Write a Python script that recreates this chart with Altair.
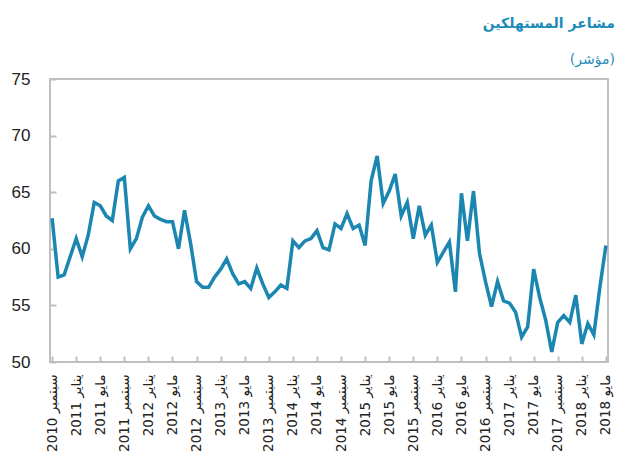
import altair as alt
import pandas as pd

month_names = ["يناير", "فبراير", "مارس", "أبريل", "مايو", "يونيو",
               "يوليو", "أغسطس", "سبتمبر", "أكتوبر", "نوفمبر", "ديسمبر"]

start_year = 2010
start_month = 9  # September 2010

values = [
    # 2010 Sep-Dec
    62.7, 57.5, 57.7, 59.3,
    # 2011
    60.9, 59.3, 61.2, 64.1, 63.8, 62.9, 62.5, 66.0, 66.3, 60.0, 60.9, 62.8,
    # 2012
    63.8, 62.9, 62.6, 62.4, 62.4, 60.0, 63.4, 60.5, 57.1, 56.6, 56.6, 57.5,
    # 2013
    58.2, 59.1, 57.8, 56.9, 57.1, 56.5, 58.3, 56.9, 55.7, 56.2, 56.8, 56.5,
    # 2014
    60.7, 60.1, 60.7, 60.9, 61.6, 60.1, 59.9, 62.2, 61.8, 63.1, 61.8, 62.1,
    # 2015
    60.3, 66.0, 68.2, 64.0, 65.1, 66.6, 62.9, 64.1, 60.9, 63.8, 61.2, 62.1,
    # 2016
    58.8, 59.7, 60.6, 56.2, 64.9, 60.7, 65.1, 59.6, 57.1, 54.9, 57.1, 55.4,
    # 2017
    55.2, 54.4, 52.2, 53.1, 58.2, 55.7, 53.7, 50.9, 53.5, 54.1, 53.5, 55.9,
    # 2018 Jan-May
    51.6, 53.4, 52.4, 56.6, 60.3,
]

labels = []
for i in range(len(values)):
    m = start_month - 1 + i
    y = start_year + m // 12
    labels.append(f"{y} {month_names[m % 12]}")

tick_labels = labels[::4]
y_ticks = [50, 55, 60, 65, 70, 75]

df = pd.DataFrame({"label": labels, "value": values})

line_color = "#1b87b1"
frame_color = "#bfbfbf"

x_scale = alt.Scale(type="point", padding=0.35)
y_scale = alt.Scale(domain=[50, 75], nice=False, zero=False)

main = alt.Chart(df).mark_line(color=line_color, strokeWidth=3.5).encode(
    x=alt.X("label:O", sort=labels, scale=x_scale, title=None,
            axis=alt.Axis(values=tick_labels, labelAngle=-90, ticks=False, domain=False,
                          grid=False, labelPadding=12, labelFontSize=13.5,
                          labelFont="DejaVu Sans", labelColor="#222222",
                          labelOverlap=False)),
    y=alt.Y("value:Q", scale=y_scale, title=None,
            axis=alt.Axis(values=y_ticks, ticks=False, domain=False, grid=False,
                          labelPadding=20, labelFontSize=17,
                          labelFont="Liberation Sans", labelColor="#222222")),
)

tick_layer = alt.Chart(df).mark_line(opacity=0).encode(
    x=alt.X("label:O", sort=labels, scale=x_scale, title=None,
            axis=alt.Axis(values=tick_labels, orient="bottom", labels=False, domain=False,
                          grid=False, ticks=True, tickSize=6, offset=-6,
                          tickColor=frame_color, tickWidth=2)),
    y=alt.Y("value:Q", scale=y_scale, title=None,
            axis=alt.Axis(values=y_ticks, orient="left", labels=False, domain=False,
                          grid=False, ticks=True, tickSize=6, offset=-6,
                          tickColor=frame_color, tickWidth=2)),
)

chart = alt.layer(main, tick_layer).resolve_axis(
    x="independent", y="independent"
).properties(
    width=558,
    height=283,
    autosize="none",
    padding={"left": 42, "top": 71, "right": 11, "bottom": 90},
    title=alt.TitleParams(
        text="مشاعر المستهلكين",
        subtitle="(مؤشر)",
        anchor="end",
        font="DejaVu Sans",
        fontSize=14,
        fontWeight="bold",
        color="#1a8ab8",
        subtitleFont="DejaVu Sans",
        subtitleFontSize=14,
        subtitleColor="#2a8ab8",
        subtitlePadding=22,
        offset=3,
        dx=2,
    ),
).configure_view(
    stroke=frame_color,
    strokeWidth=2,
)

chart.save("out.html", embed_options={"renderer": "svg", "actions": False})
